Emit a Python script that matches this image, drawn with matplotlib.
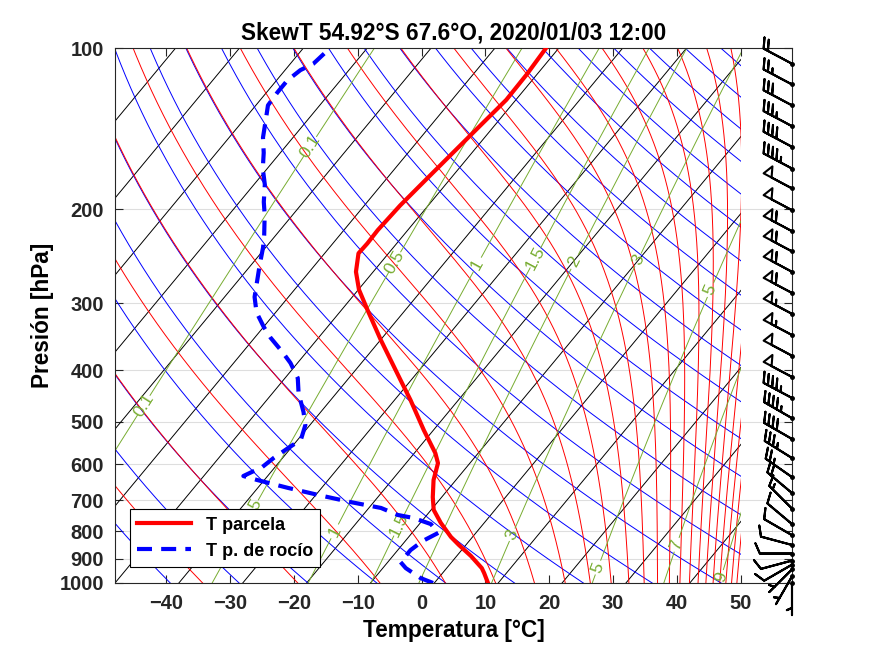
import numpy as np
import matplotlib.pyplot as plt
from matplotlib.patches import Rectangle

plt.rcParams['font.family'] = ['Liberation Sans', 'DejaVu Sans']

# sounding: temperature (degC) at pressure (hPa)
p_t = np.array([1000, 958, 938, 890, 849, 820, 772, 730, 691, 642, 597, 572, 518,
                455, 418, 351, 309, 283, 262, 242, 232, 219, 197, 173, 155, 139,
                125, 112, 100])
t_c = np.array([8.4, 6.5, 5.5, 2.2, -1.1, -3.4, -6.8, -9.6, -11.4, -13.5, -15.0,
                -16.7, -21.5, -27.5, -31.6, -40.0, -45.9, -49.9, -52.7, -54.7,
                -54.6, -54.7, -54.4, -53.6, -52.9, -52.2, -51.5, -51.6, -52.0])

# sounding: dew point (degC)
p_td = np.array([1000, 979, 938, 914, 868, 835, 806, 776, 756, 746, 724, 706, 685,
                 664, 642, 631, 607, 584, 559, 540, 507, 479, 442, 414, 388, 370,
                 348, 332, 312, 292, 269, 254, 236, 224, 205, 194, 180, 168, 157,
                 147, 136, 128, 121, 115, 110, 107, 101])
td_c = np.array([-0.2, -2.8, -6.4, -8.0, -8.0, -7.3, -5.9, -8.2, -11.7, -14.6,
                 -18.1, -23.6, -29.5, -35.3, -41.1, -43.8, -42.0, -41.4, -40.4,
                 -39.5, -40.7, -42.7, -45.9, -48.0, -51.1, -53.8, -57.5, -60.0,
                 -63.0, -65.3, -67.3, -68.7, -70.4, -71.8, -74.4, -76.2, -78.3,
                 -80.7, -82.6, -84.7, -86.6, -88.1, -88.3, -88.3, -87.6, -86.4,
                 -85.9])

# wind (knots, direction from)
p_wind = np.array([107, 117, 128, 140, 153, 168, 183, 201, 220, 240, 262, 287, 314,
                   344, 376, 412, 451, 492, 538, 584, 634, 679, 726, 776, 814, 849,
                   881, 908, 924, 943, 972, 1000])
wspd = np.array([20, 25, 30, 35, 40, 45, 50, 50, 60, 60, 60, 60, 55, 55, 50, 50,
                 45, 45, 40, 35, 25, 20, 15, 10, 10, 10, 10, 10, 10, 5, 5, 5])
wdir = np.array([298, 298, 298, 298, 298, 298, 298, 298, 298, 298, 298, 298, 298,
                 298, 298, 298, 298, 300, 300, 302, 305, 310, 315, 310, 300, 285,
                 270, 255, 240, 225, 210, 180])

# labelled mixing-ratio lines
mix_labels = [0.1, 0.5, 1, 1.5, 2, 3, 5, 7, 9]
mix_label_p = {0.1: [153, 465], 0.5: [251, 730], 1: [254, 800], 1.5: [247, 780],
               2: [251], 3: [249, 812], 5: [283, 937], 7: [849], 9: [975]}

SKEW = 69.5
X0 = 2.0
XMIN, XMAX, XBARB = -48, 50, 58


def skew_x(t, p):
    return t + X0 + SKEW * np.log10(1000.0 / p)


def es(t):
    return 6.112 * np.exp(17.67 * t / (t + 243.5))


def dewpoint(w, p):
    e = w * p / (622.0 + w)
    a = np.log(e / 6.112)
    return 243.5 * a / (17.67 - a)


def moist_temp(thetae, p):
    lo = np.full_like(p, 150.0)
    hi = np.full_like(p, 345.0)
    for _ in range(60):
        mid = 0.5 * (lo + hi)
        e = es(mid - 273.15)
        ws = 0.622 * e / np.maximum(p - e, 1e-3)
        f = mid * (1000.0 / p) ** 0.2857 * np.exp(2.5e6 * ws / (1004.0 * mid))
        big = f > thetae
        hi = np.where(big, mid, hi)
        lo = np.where(big, lo, mid)
    return 0.5 * (lo + hi) - 273.15


fig = plt.figure(figsize=(8.75, 6.56), dpi=100)
ax = fig.add_axes([115 / 875, 73 / 656, 677 / 875, 535 / 656])
ax.set_yscale('log')
ax.set_xlim(XMIN, XBARB)
ax.set_ylim(1000, 100)

clip = Rectangle((XMIN, 100), XMAX - XMIN, 900, transform=ax.transData)
pp = np.geomspace(1000, 100, 400)
lw_bg = 0.7

# isotherms
for t0 in np.arange(-160, 60, 10):
    ln, = ax.plot(skew_x(t0 + 0 * pp, pp), pp, color='k', lw=lw_bg, zorder=2)
    ln.set_clip_path(clip)

# dry adiabats
for th in 231.8 + 10.78 * np.arange(0, 26):
    t = th * (pp / 1000.0) ** 0.2857 - 273.15
    ln, = ax.plot(skew_x(t, pp), pp, color='b', lw=lw_bg, zorder=2)
    ln.set_clip_path(clip)

# moist adiabats
for the in 237.3 + 16.2 * np.arange(0, 24):
    t = moist_temp(the, pp)
    ln, = ax.plot(skew_x(t, pp), pp, color='r', lw=lw_bg, zorder=2)
    ln.set_clip_path(clip)

# mixing ratio lines with labels
green = '#77ac30'
for lab in mix_labels:
    w = 0.8 * lab ** 2
    x = skew_x(dewpoint(w, pp), pp)
    gap = 0.018 if len('%g' % lab) > 1 else 0.012
    for pl in mix_label_p[lab]:
        x = np.where(np.abs(np.log10(pp) - np.log10(pl)) < gap, np.nan, x)
    ln, = ax.plot(x, pp, color=green, lw=lw_bg, zorder=2)
    ln.set_clip_path(clip)
    for pl in mix_label_p[lab]:
        xl = skew_x(dewpoint(w, pl), pl)
        x2 = skew_x(dewpoint(w, pl * 0.95), pl * 0.95)
        d1 = ax.transData.transform((xl, pl))
        d2 = ax.transData.transform((x2, pl * 0.95))
        ang = np.degrees(np.arctan2(d2[1] - d1[1], d2[0] - d1[0]))
        if xl < XMAX:
            ax.text(xl, pl, '%g' % lab, color=green, fontsize=12.5, rotation=ang,
                    rotation_mode='anchor', ha='center', va='center', zorder=3)

# sounding
ax.plot(skew_x(t_c, p_t), p_t, color='r', lw=3, label='T parcela', zorder=5)
ax.plot(skew_x(td_c, p_td), p_td, color='b', lw=3, ls=(0, (3.6, 2.2)),
        label='T p. de rocío', zorder=5)

# wind barbs on the right edge
rad = np.radians(wdir)
u = -wspd * np.sin(rad)
v = -wspd * np.cos(rad)
xb = np.full(len(p_wind), XBARB)
ax.barbs(xb, p_wind, u, v, length=6.8, lw=1.5, barbcolor='k', flagcolor='white',
         clip_on=False, sizes=dict(spacing=0.15, height=0.32, width=0.28),
         zorder=6)
ax.plot(xb, p_wind, 'k.', ms=5, clip_on=False, zorder=7)

ax.set_xticks(np.arange(-40, 60, 10))
ax.set_yticks(np.arange(100, 1100, 100))
ax.set_yticklabels([str(v) for v in range(100, 1100, 100)])
ax.minorticks_off()
ax.yaxis.grid(True, color='#dedede', lw=0.8, zorder=0)
ax.set_axisbelow(True)
ax.tick_params(direction='in', top=True, right=True, length=6, width=0.8,
               labelsize=14.5, pad=8, colors='#262626')
for lab in ax.get_xticklabels() + ax.get_yticklabels():
    lab.set_fontweight('bold')
for s in ax.spines.values():
    s.set_linewidth(0.8)
    s.set_color('#262626')

ax.set_title('SkewT 54.92°S 67.6°O, 2020/01/03 12:00', fontsize=16.3,
             fontweight='bold', pad=6)
ax.set_xlabel('Temperatura [°C]', fontsize=16.3, fontweight='bold', labelpad=4)
ax.set_ylabel('Presión [hPa]', fontsize=16.3, fontweight='bold', labelpad=4)

leg = ax.legend(loc='lower left', bbox_to_anchor=(0.022, 0.03), borderaxespad=0,
                fancybox=False, edgecolor='k', framealpha=1, handlelength=3.0,
                prop=dict(size=13, weight='bold'))
leg.get_frame().set_linewidth(0.8)
leg.set_zorder(10)

fig.savefig('out.png', dpi=100)
